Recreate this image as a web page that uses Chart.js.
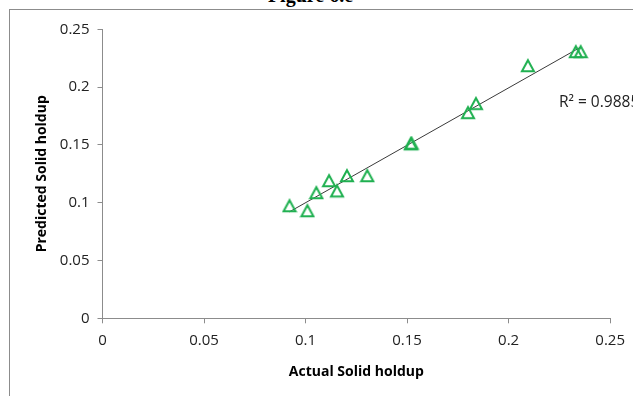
<!DOCTYPE html>
<html>
<head>
<meta charset="utf-8">
<script src="https://cdn.jsdelivr.net/npm/chart.js@4/dist/chart.umd.min.js"></script>
<style>
  html, body { margin: 0; padding: 0; background: #fff; }
  #wrap { position: relative; width: 633px; height: 396px; overflow: hidden; }
  #frame { position: absolute; left: 9px; top: 9px; width: 700px; height: 500px;
           border-left: 1px solid #8c8c8c; border-top: 1px solid #8c8c8c; }
  #fig { position: absolute; left: 0; width: 633px; top: -16px; text-align: center;
         font: bold 20px "Liberation Serif", "DejaVu Serif", serif; color: #000; }
  #fig span { position: relative; left: -6px; }
  canvas { position: absolute; left: 0; top: 0; }
</style>
</head>
<body>
<div id="wrap">
  <div id="frame"></div>
  <div id="fig"><span>Figure 6.e</span></div>
  <canvas id="c" width="633" height="396"></canvas>
</div>
<script>
// Actual vs predicted solid holdup
const actualHoldup    = [0.0921, 0.1009, 0.1053, 0.1116, 0.1155, 0.1204, 0.1304, 0.1518, 0.1522, 0.1800, 0.1839, 0.2095, 0.2331, 0.2355];
const predictedHoldup = [0.0971, 0.0928, 0.1084, 0.1188, 0.1099, 0.1231, 0.1231, 0.1507, 0.1512, 0.1777, 0.1855, 0.2183, 0.2304, 0.2304];
const axisTicks = [0, 0.05, 0.1, 0.15, 0.2, 0.25];
const rSquaredLabel = 'R\u00B2 = 0.9885';

// Linear trendline by least squares
const n = actualHoldup.length;
const mx = actualHoldup.reduce((a, b) => a + b, 0) / n;
const my = predictedHoldup.reduce((a, b) => a + b, 0) / n;
let sxy = 0, sxx = 0;
for (let i = 0; i < n; i++) {
  sxy += (actualHoldup[i] - mx) * (predictedHoldup[i] - my);
  sxx += (actualHoldup[i] - mx) ** 2;
}
const slope = sxy / sxx;
const intercept = my - slope * mx;
const xMin = Math.min(...actualHoldup), xMax = Math.max(...actualHoldup);
const trend = [
  { x: xMin, y: intercept + slope * xMin },
  { x: xMax, y: intercept + slope * xMax }
];

const points = actualHoldup.map((x, i) => ({ x, y: predictedHoldup[i] }));

// Open triangle marker centred on its bounding box
const marker = document.createElement('canvas');
marker.width = 16; marker.height = 16;
(function () {
  const m = marker.getContext('2d');
  m.strokeStyle = '#1fb050';
  m.lineWidth = 2;
  m.lineJoin = 'miter';
  m.beginPath();
  m.moveTo(8, 2.2);
  m.lineTo(14, 13.2);
  m.lineTo(2, 13.2);
  m.closePath();
  m.stroke();
})();

const r2Plugin = {
  id: 'r2text',
  afterDatasetsDraw(chart) {
    const ctx = chart.ctx;
    ctx.save();
    ctx.font = '15.5px "Open Sans", sans-serif';
    ctx.fillStyle = '#222';
    ctx.textBaseline = 'middle';
    ctx.textAlign = 'left';
    ctx.fillText(rSquaredLabel, 559, 103);
    ctx.restore();
  }
};

const tickFont = { family: '"Open Sans", sans-serif', size: 15 };
const titleFont = { family: '"Open Sans", sans-serif', size: 14, weight: 'bold' };

new Chart(document.getElementById('c'), {
  type: 'scatter',
  data: {
    datasets: [
      {
        label: 'Predicted',
        data: points,
        pointStyle: marker,
        pointRadius: 8,
        order: 1
      },
      {
        label: 'Linear',
        type: 'line',
        data: trend,
        borderColor: '#3a3a3a',
        borderWidth: 1,
        pointRadius: 0,
        fill: false,
        order: 2
      }
    ]
  },
  options: {
    responsive: false,
    animation: false,
    events: [],
    layout: { padding: { left: 28, right: 21.5, top: 29.3, bottom: 0 } },
    plugins: { legend: { display: false }, tooltip: { enabled: false } },
    scales: {
      x: {
        type: 'linear',
        min: 0, max: 0.25,
        afterBuildTicks(s) { s.ticks = axisTicks.map(v => ({ value: v })); },
        afterFit(s) { s.height = 77.7; },
        border: { color: '#8c8c8c', width: 1 },
        grid: { drawOnChartArea: false, tickLength: 5, color: '#8c8c8c' },
        ticks: { font: tickFont, color: '#222', padding: 8, maxRotation: 0,
                 callback: v => String(v) },
        title: { display: true, text: 'Actual Solid holdup', font: titleFont, color: '#000',
                 padding: { top: 0, bottom: 16 } }
      },
      y: {
        type: 'linear',
        min: 0, max: 0.25,
        afterBuildTicks(s) { s.ticks = axisTicks.map(v => ({ value: v })); },
        afterFit(s) { s.width = 74.5; },
        border: { color: '#8c8c8c', width: 1 },
        grid: { drawOnChartArea: false, tickLength: 5, color: '#8c8c8c' },
        ticks: { font: tickFont, color: '#222', padding: 8,
                 callback: v => String(v) },
        title: { display: true, text: 'Predicted Solid holdup', font: titleFont, color: '#000',
                 padding: { top: 6, bottom: 0 } }
      }
    }
  },
  plugins: [r2Plugin]
});
</script>
</body>
</html>
